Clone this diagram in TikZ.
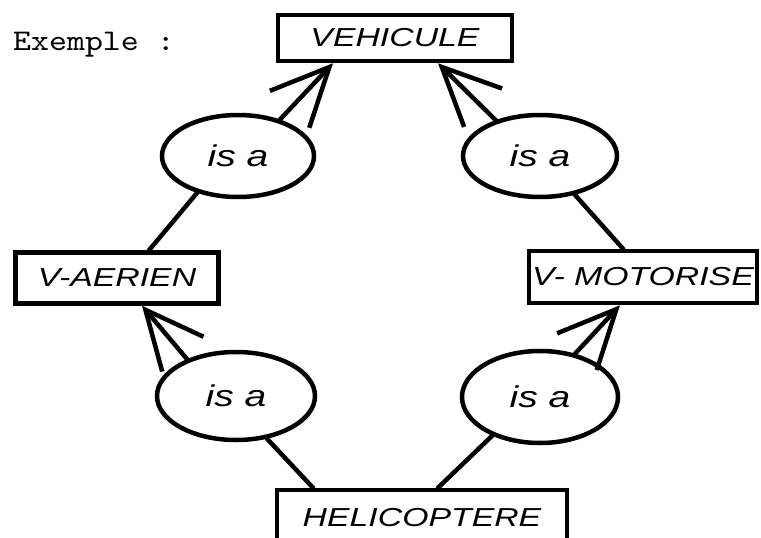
\documentclass[tikz,border=0pt]{standalone}
\usepackage{fontspec}
\usetikzlibrary{arrows.meta,shapes.geometric}
\newfontfamily\handfont{Liberation Sans}[FakeStretch=1.3]
\newfontfamily\typefont{lmmono10-regular.otf}[FakeStretch=1.14]

\begin{document}
\begin{tikzpicture}[x=1pt, y=-1pt,
  box/.style={draw, line width=4.5pt, inner sep=0pt,
              font=\handfont\itshape\fontsize{26}{26}\selectfont},
  rel/.style={draw, ellipse, line width=4.5pt, inner sep=0pt,
              font=\handfont\itshape\fontsize{30}{30}\selectfont},
  link/.style={line width=4.5pt, line cap=round},
  arr/.style={link, -{Straight Barb[length=58pt, width=54pt]}},
  lbl/.style={font=\typefont\fontsize{30}{30}\selectfont, inner sep=0pt}]
\clip (0,0) rectangle (761,538);
\node[lbl, anchor=base west] (title) at (13,50) {Exemple :};
\node[box, minimum width=234pt, minimum height=46pt] (veh) at (395,38) {VEHICULE};
\node[box, minimum width=203pt, minimum height=51pt] (aer) at (117,278) {V-AERIEN};
\node[box, minimum width=228pt, minimum height=52pt] (mot) at (643,277) {V- MOTORISE};
\node[box, minimum width=290pt, minimum height=56pt] (heli) at (422,518) {HELICOPTERE};
\node[rel, minimum width=152pt, minimum height=82pt] (isa1) at (238,156) {is a};
\node[rel, minimum width=154pt, minimum height=82pt] (isa2) at (540,156) {is a};
\node[rel, minimum width=158pt, minimum height=88pt] (isa3) at (236,396) {is a};
\node[rel, minimum width=156pt, minimum height=92pt] (isa4) at (540,397) {is a};
\draw[arr] (isa1.41) -- ([xshift=-62pt]veh.south);
\draw[arr] (isa2.141) -- ([xshift=43pt]veh.south);
\draw[link] ([xshift=32pt]aer.north) -- (isa1.222);
\draw[link] ([xshift=-20pt]mot.north) -- (isa2.312);
\draw[arr] (isa3.143) -- ([xshift=25pt]aer.south);
\draw[arr] (isa4.51) -- ([xshift=-23pt]mot.south);
\draw[link] ([xshift=-109pt]heli.north) -- (isa3.306);
\draw[link] ([xshift=16pt]heli.north) -- (isa4.219);
\end{tikzpicture}
\end{document}
